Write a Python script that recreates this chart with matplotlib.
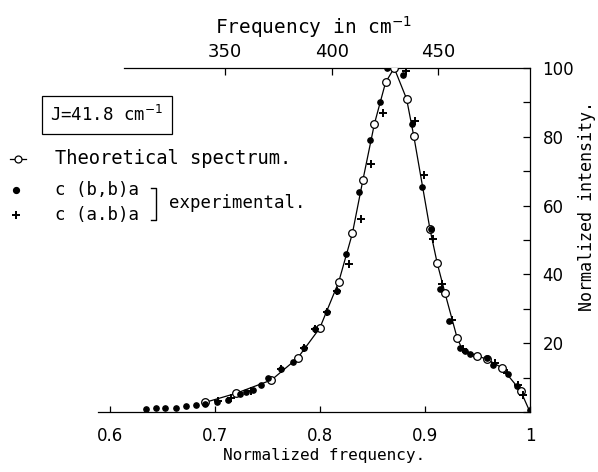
import matplotlib.pyplot as plt

# theoretical spectrum (open circles)
theory_f = [0.691, 0.720, 0.754, 0.779, 0.800, 0.818, 0.831, 0.841, 0.852,
            0.8626, 0.8708, 0.8826, 0.8895, 0.9048, 0.9117, 0.919, 0.9308,
            0.950, 0.9593, 0.973, 0.991]
theory_I = [2.8, 5.4, 9.3, 15.7, 24.4, 37.8, 51.9, 67.4, 83.8,
            95.8, 100.0, 91.0, 80.1, 53.2, 43.3, 34.7, 21.4,
            16.3, 15.3, 12.9, 6.2]

# line through the theoretical points
line_f = [0.691, 0.720, 0.754, 0.779, 0.800, 0.818, 0.831, 0.841, 0.852,
          0.8626, 0.8708, 0.8826, 0.8895, 0.9048, 0.9117, 0.919, 0.9308,
          0.935, 0.942, 0.950, 0.9593, 0.973, 0.991, 1.0]
line_I = [2.8, 5.4, 9.3, 15.7, 24.4, 37.8, 51.9, 67.4, 83.8,
          95.8, 100.0, 91.0, 80.1, 53.2, 43.3, 34.7, 21.4,
          18.6, 17.3, 16.3, 15.3, 12.9, 6.2, 0.0]

# experimental c(b,b)a (filled dots)
bb_f = [0.635, 0.644, 0.653, 0.663, 0.673, 0.682, 0.691, 0.702, 0.713,
        0.724, 0.730, 0.736, 0.744, 0.751, 0.7635, 0.7746, 0.785, 0.795,
        0.807, 0.8165, 0.825, 0.8374, 0.8476, 0.857, 0.864, 0.8787,
        0.8876, 0.897, 0.906, 0.914, 0.9229, 0.9333, 0.938, 0.943,
        0.9587, 0.965, 0.9794, 0.9873, 1.0]
bb_I = [1.0, 1.1, 1.1, 1.2, 1.6, 1.9, 2.3, 2.9, 3.4,
        5.2, 5.8, 6.4, 7.9, 10.0, 12.5, 14.6, 18.7, 24.0,
        29.1, 35.3, 46.0, 64.0, 79.0, 90.0, 100.0, 98.0,
        83.8, 65.4, 53.2, 35.8, 26.4, 18.5, 17.7, 17.0,
        15.6, 13.7, 11.0, 7.7, 0.5]

# experimental c(a,b)a (plus signs)
ab_f = [0.703, 0.716, 0.735, 0.7635, 0.785, 0.795, 0.807, 0.8165, 0.828,
        0.839, 0.8486, 0.860, 0.882, 0.8905, 0.8993, 0.908, 0.916, 0.9254,
        0.936, 0.9667, 0.978, 0.9889, 0.9937]
ab_I = [3.1, 4.0, 6.0, 12.5, 18.7, 24.0, 29.1, 35.3, 43.0,
        56.0, 72.2, 86.9, 99.0, 84.5, 68.8, 50.3, 37.3, 26.7,
        18.3, 14.2, 11.3, 7.9, 5.0]

x_ticks = [0.6, 0.7, 0.8, 0.9, 1.0]
x_ticklabels = ['0.6', '0.7', '0.8', '0.9', '1']
y_ticks = list(range(0, 101, 10))
y_ticklabels = ['' if v == 0 or v % 20 else str(v) for v in y_ticks]
top_ticks = [350, 400, 450]
nu_max = 493.0  # cm-1 at normalized frequency 1

MONO = 'DejaVu Sans Mono'
plt.rcParams['font.family'] = 'DejaVu Sans'
fig = plt.figure(figsize=(5.98, 4.72), dpi=100)
ax = fig.add_axes([98 / 598, 1 - 412 / 472, 432 / 598, 344 / 472])

ax.plot(line_f, line_I, 'k-', lw=0.9, zorder=2)
ax.plot(theory_f, theory_I, 'o', ms=5.5, mfc='white', mec='k', mew=0.9, zorder=3)
ax.plot(bb_f, bb_I, 'o', ms=3.8, color='k', zorder=4)
ax.plot(ab_f, ab_I, '+', ms=5.5, mew=1.4, color='k', zorder=4)

ax.set_xlim(0.589, 1.0)
ax.set_ylim(0, 100)

ax.spines['left'].set_visible(False)
ax.spines['top'].set_visible(False)
for s in ax.spines.values():
    s.set_linewidth(0.9)

ax.set_xticks(x_ticks)
ax.set_xticklabels(x_ticklabels)
ax.tick_params(axis='x', direction='in', length=4, width=0.9, labelsize=12, pad=11)
ax.set_xlabel('Normalized frequency.', family=MONO, fontsize=11.5, labelpad=3)
ax.xaxis.set_label_coords(0.523, -0.105)

ax.yaxis.tick_right()
ax.set_yticks(y_ticks)
ax.set_yticklabels(y_ticklabels)
ax.tick_params(axis='y', direction='in', length=5, width=0.9, labelsize=12, pad=9,
               left=False, right=True)
ax.yaxis.set_label_position('right')
ax.set_ylabel('Normalized intensity.', family=MONO, fontsize=12, va='center')
ax.yaxis.set_label_coords(1.132, 0.60)

secax = ax.secondary_xaxis('top', functions=(lambda f: f * nu_max, lambda v: v / nu_max))
secax.set_xticks(top_ticks)
secax.tick_params(direction='in', length=5, width=0.9, labelsize=13, pad=5)
secax.spines['top'].set_bounds(0.614 * nu_max, nu_max)
secax.spines['top'].set_linewidth(0.9)
secax.set_xlabel('Frequency in cm$^{-1}$', family=MONO, fontsize=14, labelpad=7)


# legend drawn as text, as in the original figure
def fx(px):
    return px / 598


def fy(py):
    return 1 - py / 472


fig.text(fx(107), fy(115), 'J=41.8 cm$^{-1}$', family=MONO, fontsize=12.5,
         ha='center', va='center',
         bbox=dict(boxstyle='square,pad=0.5', fc='white', ec='k', lw=0.9))
fig.lines.append(plt.Line2D([fx(10), fx(26)], [fy(159), fy(159)], color='k', lw=0.9,
                            transform=fig.transFigure))
fig.lines.append(plt.Line2D([fx(18)], [fy(159)], marker='o', ms=5, mfc='white',
                            mec='k', mew=0.9, transform=fig.transFigure))
fig.text(fx(55), fy(158), 'Theoretical spectrum.', family=MONO, fontsize=13.5, va='center')
fig.lines.append(plt.Line2D([fx(16)], [fy(190)], color='k', marker='o', ms=4.2,
                            transform=fig.transFigure))
fig.text(fx(55), fy(190), 'c (b,b)a', family=MONO, fontsize=12.5, va='center')
fig.lines.append(plt.Line2D([fx(16)], [fy(215)], color='k', marker='+', ms=6, mew=1.4,
                            transform=fig.transFigure))
fig.text(fx(55), fy(215), 'c (a.b)a', family=MONO, fontsize=12.5, va='center')
fig.lines.append(plt.Line2D([fx(151), fx(156), fx(156), fx(151)],
                            [fy(188), fy(188), fy(220), fy(220)], color='k', lw=1.0,
                            transform=fig.transFigure))
fig.text(fx(169), fy(203), 'experimental.', family=MONO, fontsize=12.5, va='center')

fig.savefig('out.png', dpi=100)
